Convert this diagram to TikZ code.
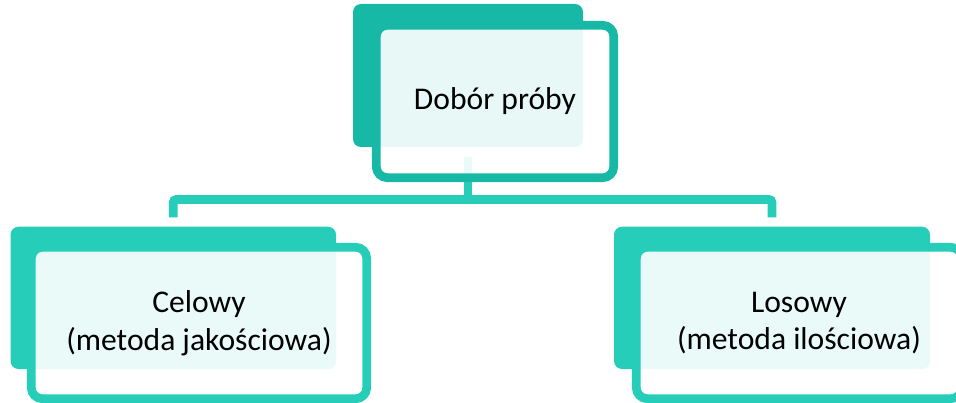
\documentclass[tikz,border=0pt]{standalone}
\usepackage{fontspec}
\setmainfont{Carlito}
\usetikzlibrary{calc}
\definecolor{tealdark}{HTML}{17B8A5}
\definecolor{teallight}{HTML}{26CDB9}
\tikzset{
  backbox/.style={fill=#1, draw=none, rounded corners=8pt, inner sep=0pt, outer sep=0pt},
  frontbox/.style={draw=#1, line width=8.7pt, fill=white, fill opacity=0.9, text opacity=1,
    rounded corners=11pt, inner sep=0pt, outer sep=0pt, align=center,
    font=\fontsize{31.6}{37.5}\selectfont},
  conn/.style={draw=teallight, line width=8.7pt, rounded corners=3pt}
}
\begin{document}
\begin{tikzpicture}[x=1pt,y=-1pt]
\clip (0,0) rectangle (956,403);
% back rectangles
\node[backbox=tealdark, minimum width=230pt, minimum height=143pt] (topback) at (468,75.5) {};
\node[backbox=teallight, minimum width=325.5pt, minimum height=142.3pt] (leftback) at (173.25,297.85) {};
\node[backbox=teallight, minimum width=316pt, minimum height=142.3pt] (rightback) at (772,297.85) {};
% connectors
\coordinate (hub) at ($(topback.south)+(0,52.5)$);
\coordinate (jl) at (leftback.north |- hub);
\coordinate (jr) at (rightback.north |- hub);
\draw[conn] ($(topback.south)+(0,10)$) -- (hub);
\draw[conn] ($(leftback.north)+(0,-9.2)$) -- (jl) -- (jr) -- ($(rightback.north)+(0,-9.2)$);
% front boxes
\node[frontbox=tealdark, minimum width=237.4pt, minimum height=152.4pt] (top) at (495,101.5) {Dobór próby};
\node[frontbox=teallight, minimum width=335.4pt, minimum height=151.4pt] (left) at (199,323) {Celowy\\(metoda jakościowa)};
\node[frontbox=teallight, minimum width=325.4pt, minimum height=151.4pt] (right) at (799,323) {Losowy\\(metoda ilościowa)};
\end{tikzpicture}
\end{document}
